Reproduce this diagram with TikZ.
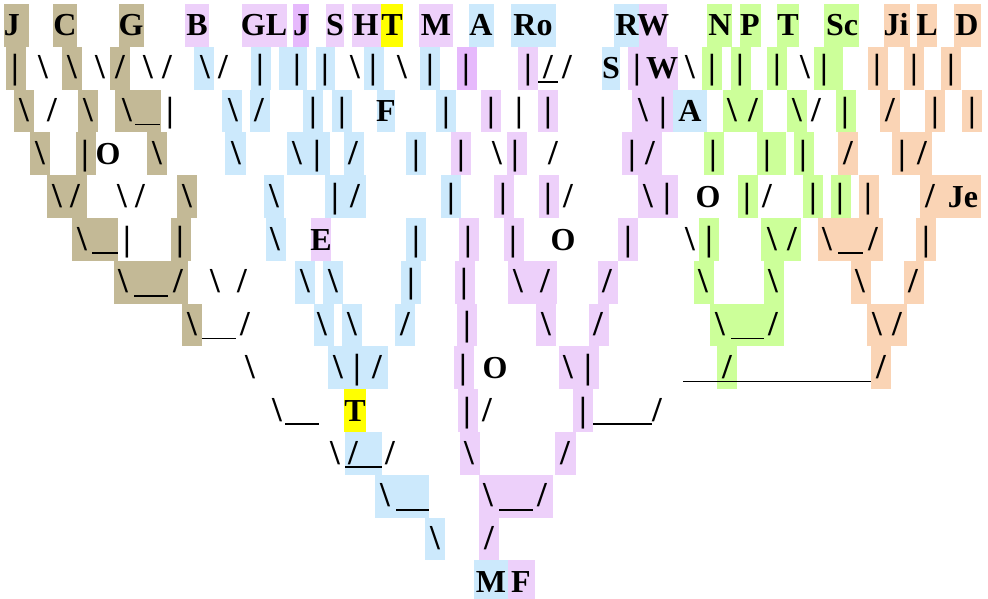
\documentclass[tikz,border=0pt]{standalone}
\usepackage{fontspec}
\setmainfont{Liberation Serif}
\usepackage{xcolor}
\usepackage{tikz}
\definecolor{tanc}{HTML}{C3B996}
\definecolor{lilac}{HTML}{EDD0FA}
\definecolor{lilacdk}{HTML}{E6B9FC}
\definecolor{sky}{HTML}{CCE9FC}
\definecolor{lemon}{HTML}{FFFF00}
\definecolor{leaf}{HTML}{CCFF99}
\definecolor{peach}{HTML}{FAD4B5}
\tikzset{
  cell/.style={inner sep=0pt, anchor=base},
  sym/.style={cell, font=\fontsize{35}{40}\selectfont\bfseries},
  lbl/.style={cell, font=\fontsize{32}{38}\selectfont\bfseries},
  bar/.style={draw=black, line width=1.7pt},
}

\begin{document}
\begin{tikzpicture}[x=1pt, y=-1pt]
  \def\rh{42.8}
  \def\yo{4}
  \useasboundingbox (0,0) rectangle (988,599);
  % coloured cells
  \foreach \a/\b/\r in {4/29/0, 53/77/0, 119/144/0, 6/26/1, 62/82/1, 110/130/1,
      14/34/2, 78/98/2, 115/161/2, 30/50/3, 76/96/3, 147/167/3, 47/87/4, 177/197/4,
      72/118/5, 171/191/5, 114/188/6, 182/202/7}
    \fill[tanc] (\a,{\yo+\rh*\r}) rectangle (\b,{\yo+\rh*(\r+1)});
  \foreach \a/\b/\r in {185/209/0, 242/287/0, 326/344/0, 352/381/0, 419/453/0, 639/667/0,
      518/538/1, 628/678/1, 481/501/2, 538/558/2, 632/673/2, 451/471/3, 507/527/3, 622/662/3,
      494/514/4, 539/559/4, 638/678/4, 311/331/5, 459/479/5, 504/524/5, 618/638/5,
      455/475/6, 508/557/6, 598/618/6, 457/477/7, 536/556/7, 589/609/7, 454/474/8, 559/599/8,
      458/478/9, 573/593/9, 460/480/10, 555/576/10, 479/553/11, 479/499/12, 508/535/13}
    \fill[lilac] (\a,{\yo+\rh*\r}) rectangle (\b,{\yo+\rh*(\r+1)});
  \foreach \a/\b/\r in {293/309/0, 457/477/1}
    \fill[lilacdk] (\a,{\yo+\rh*\r}) rectangle (\b,{\yo+\rh*(\r+1)});
  \foreach \a/\b/\r in {469/494/0, 511/556/0, 614/639/0,
      194/214/1, 251/271/1, 279/307/1, 316/335/1, 364/384/1, 420/440/1, 602/620/1,
      222/242/2, 250/270/2, 303/323/2, 332/352/2, 377/395/2, 436/456/2, 673/707/2,
      225/246/3, 287/330/3, 344/364/3, 406/426/3, 264/284/4, 325/366/4, 441/461/4,
      266/286/5, 406/426/5, 295/315/6, 323/343/6, 401/421/6, 314/334/7, 342/362/7, 395/415/7,
      328/388/8, 345/382/10, 375/429/11, 425/445/12, 474/508/13}
    \fill[sky] (\a,{\yo+\rh*\r}) rectangle (\b,{\yo+\rh*(\r+1)});
  \foreach \a/\b/\r in {381/403/0, 344/366/9}
    \fill[lemon] (\a,{\yo+\rh*\r}) rectangle (\b,{\yo+\rh*(\r+1)});
  \foreach \a/\b/\r in {707/732/0, 740/761/0, 777/799/0, 824/859/0,
      702/722/1, 731/751/1, 767/787/1, 814/843/1, 723/763/2, 787/807/2, 836/856/2,
      704/724/3, 757/786/3, 794/814/3, 738/758/4, 803/823/4, 831/851/4,
      699/719/5, 761/801/5, 694/714/6, 764/784/6, 710/784/7, 717/737/8}
    \fill[leaf] (\a,{\yo+\rh*\r}) rectangle (\b,{\yo+\rh*(\r+1)});
  \foreach \a/\b/\r in {884/910/0, 917/937/0, 954/981/0, 868/888/1, 904/924/1, 941/961/1,
      880/900/2, 925/945/2, 962/982/2, 838/858/3, 892/932/3, 859/879/4, 920/981/4,
      818/883/5, 916/936/5, 851/871/6, 904/924/6, 867/907/7, 871/891/8}
    \fill[peach] (\a,{\yo+\rh*\r}) rectangle (\b,{\yo+\rh*(\r+1)});
  % names
  \foreach \x/\r/\t in {12/0/J, 65/0/C, 131/0/G, 197/0/B, 264/0/GL, 301/0/J, 335/0/S,
      366/0/H, 392/0/T, 436/0/M, 481/0/A, 533/0/Ro, 627/0/R, 653/0/W, 720/0/N, 750/0/P,
      788/0/T, 842/0/Sc, 896/0/Ji, 927/0/L, 967/0/D, 611/1/S, 662/1/W, 386/2/F, 690/2/A,
      108/3/O, 708/4/O, 963/4/Je, 321/5/E, 563/5/O, 495/8/O, 355/9/T, 491/13/M, 521/13/F}
    \node[lbl] (n\x-\r) at (\x,{\yo+\rh*\r+32}) {\t};
  % branches
  \foreach \x/\r in {43/1, 72/1, 100/1, 148/1, 205/1, 355/1, 402/1, 690/1, 805/1,
      24/2, 88/2, 127/2, 233/2, 643/2, 732/2, 797/2, 40/3, 157/3, 236/3, 297/3, 497/3,
      57/4, 122/4, 187/4, 274/4, 648/4, 82/5, 275/5, 690/5, 772/5, 827/5,
      123/6, 215/6, 305/6, 333/6, 518/6, 703/6, 773/6, 860/6,
      192/7, 322/7, 352/7, 546/7, 720/7, 877/7, 250/8, 338/8, 568/8, 277/9,
      335/10, 469/10, 385/11, 488/11, 435/12}
    \node[sym] (b\x-\r) at (\x,{\yo+\rh*\r+32}) {\textbackslash};
  \foreach \x/\r in {120/1, 167/1, 223/1, 548/1, 567/1, 52/2, 259/2, 753/2, 816/2, 890/2,
      353/3, 553/3, 650/3, 848/3, 922/3, 75/4, 140/4, 355/4, 568/4, 767/4, 930/4,
      792/5, 873/5, 178/6, 242/6, 545/6, 607/6, 913/6, 245/7, 405/7, 598/7, 773/7, 897/7,
      377/8, 727/8, 881/8, 487/9, 657/9, 353/10, 390/10, 565/10, 542/11, 489/12}
    \node[sym] (s\x-\r) at (\x,{\yo+\rh*\r+32}) {/};
  \foreach \x/\r in {15/1, 260/1, 297/1, 325/1, 373/1, 430/1, 466/1, 528/1, 637/1, 712/1,
      740/1, 777/1, 824/1, 877/1, 914/1, 951/1,
      170/2, 313/2, 342/2, 446/2, 491/2, 519/2, 548/2, 663/2, 845/2, 935/2, 972/2,
      85/3, 317/3, 416/3, 461/3, 515/3, 632/3, 713/3, 767/3, 803/3, 902/3,
      335/4, 451/4, 503/4, 548/4, 667/4, 747/4, 813/4, 840/4, 868/4,
      127/5, 180/5, 416/5, 468/5, 513/5, 628/5, 709/5, 926/5,
      411/6, 464/6, 467/7, 357/8, 463/8, 588/8, 467/9, 583/9}
    \node[sym] (p\x-\r) at (\x,{\yo+\rh*\r+32}) {\textbar};
  % underscores
  \foreach \a/\b/\r in {538/558/1, 135/160/2, 92/118/5, 838/863/5, 134/168/6,
      202/236/7, 731/764/7, 683/871/8, 285/319/9, 593/652/9, 345/382/10,
      396/429/11, 499/533/11}
    \draw[bar] (\a,{\yo+\rh*\r+35}) -- (\b,{\yo+\rh*\r+35});
\end{tikzpicture}
\end{document}
